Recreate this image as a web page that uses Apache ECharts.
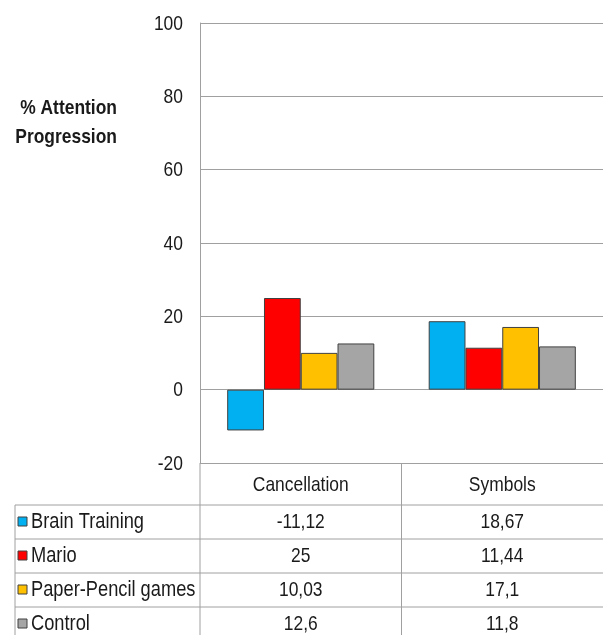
<!DOCTYPE html>
<html>
<head>
<meta charset="utf-8">
<script src="https://cdn.jsdelivr.net/npm/echarts@6/dist/echarts.min.js"></script>
<style>
  html, body { margin: 0; padding: 0; background: #ffffff; }
  #chart { width: 603px; height: 635px; }
</style>
</head>
<body>
<div id="chart"></div>
<script>
// Attention progression per training group, two tasks
const categories = ['Cancellation', 'Symbols'];
const seriesNames = ['Brain Training', 'Mario', 'Paper-Pencil games', 'Control'];
const brainTraining = [-11.12, 18.67];
const mario = [25, 11.44];
const paperPencil = [10.03, 17.1];
const control = [12.6, 11.8];
const yTicks = [-20, 0, 20, 40, 60, 80, 100];
const axisTitle = ['% Attention', 'Progression'];

const seriesValues = [brainTraining, mario, paperPencil, control];
const colors = ['#00B0F0', '#FF0000', '#FFC000', '#A5A5A5'];
const FONT = '"Liberation Sans", Arial, sans-serif';
const NARROW = 0.83;            // horizontal squeeze for a condensed sans look
const TEXT = '#1a1a1a';
const LINE = '#a0a0a0';

// numbers in the table use a decimal comma
const fmt = v => String(v).replace('.', ',');

const chart = echarts.init(document.getElementById('chart'));

chart.setOption({
  animation: false,
  backgroundColor: '#ffffff',
  grid: { left: 200, right: -3, top: 23, bottom: 172, containLabel: false },
  xAxis: {
    type: 'category',
    data: categories,
    axisLine: { show: false },
    axisTick: { show: false },
    axisLabel: { show: false }
  },
  yAxis: {
    type: 'value',
    min: yTicks[0], max: yTicks[yTicks.length - 1], interval: yTicks[1] - yTicks[0],
    axisLine: { show: true, lineStyle: { color: LINE, width: 1 } },
    axisTick: { show: false },
    axisLabel: { show: false },
    splitLine: { show: true, lineStyle: { color: LINE, width: 1 } }
  },
  series: seriesNames.map((name, i) => ({
    name,
    type: 'bar',
    data: seriesValues[i],
    barGap: '0%',
    barCategoryGap: '27%',
    itemStyle: { color: colors[i], borderColor: '#404040', borderWidth: 1 }
  }))
});

// condensed text placed at an anchor point
function label(text, x, y, size, align, bold) {
  return {
    type: 'text', x, y, scaleX: NARROW, silent: true,
    style: {
      text, fill: TEXT, font: (bold ? 'bold ' : '') + size + 'px ' + FONT,
      align, verticalAlign: 'middle'
    }
  };
}

// tick labels, header row and data table, laid out from the axis positions
function buildOverlay() {
  const gridRect = chart.getModel().getComponent('grid').coordinateSystem.getRect();
  const left = 15;
  const top = gridRect.y + gridRect.height;       // the y-min grid line
  const headerH = 42;
  const rowH = 34;
  const right = 603;
  const centers = categories.map(c => chart.convertToPixel({ xAxisIndex: 0 }, c));
  const divider = (centers[0] + centers[1]) / 2;
  const elements = [];

  // y tick labels
  yTicks.forEach(t => {
    const y = chart.convertToPixel({ yAxisIndex: 0 }, t);
    elements.push(label(String(t), gridRect.x - 17, y + 1, 21, 'right', false));
  });

  // axis title
  axisTitle.forEach((line, i) => {
    elements.push(label(line, 117, 108 + i * 29, 21, 'right', true));
  });

  const lineStyle = { stroke: LINE, lineWidth: 1 };
  // vertical rules
  [gridRect.x, divider].forEach(x => {
    elements.push({ type: 'line', shape: { x1: x, y1: top, x2: x, y2: 635 }, style: lineStyle, silent: true });
  });
  elements.push({ type: 'line', shape: { x1: left, y1: top + headerH, x2: left, y2: 635 }, style: lineStyle, silent: true });
  // horizontal rules
  for (let r = 0; r < seriesNames.length; r++) {
    const y = top + headerH + r * rowH;
    elements.push({ type: 'line', shape: { x1: left, y1: y, x2: right, y2: y }, style: lineStyle, silent: true });
  }

  // header row: category names
  categories.forEach((c, i) => {
    elements.push(label(c, centers[i], top + headerH / 2 + 1, 21, 'center', false));
  });

  // data rows
  seriesNames.forEach((name, r) => {
    const cy = top + headerH + r * rowH + rowH / 2;
    elements.push({
      type: 'rect', shape: { x: 18, y: cy - 5, width: 9, height: 9 },
      style: { fill: colors[r], stroke: '#404040', lineWidth: 1 }, silent: true
    });
    elements.push(label(name, 31, cy, 22, 'left', false));
    centers.forEach((cx, c) => {
      elements.push(label(fmt(seriesValues[r][c]), cx, cy, 21, 'center', false));
    });
  });
  chart.setOption({ graphic: { elements } });
}
buildOverlay();
</script>
</body>
</html>
